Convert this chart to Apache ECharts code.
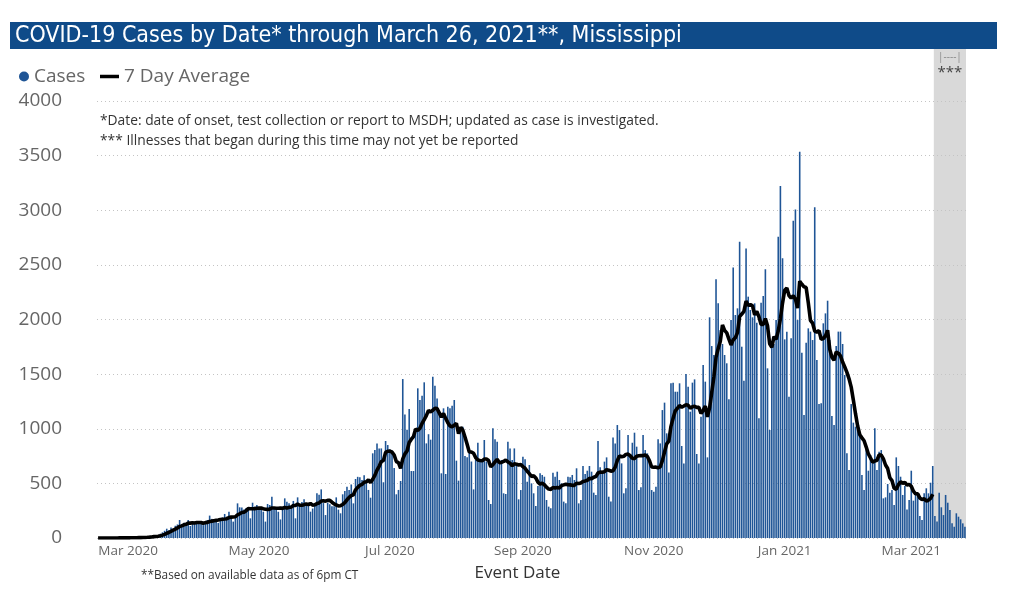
<!DOCTYPE html>
<html>
<head>
<meta charset="utf-8">
<script src="https://cdn.jsdelivr.net/npm/echarts@6/dist/echarts.min.js"></script>
<style>
html,body{margin:0;padding:0;background:#fff;}
#c{width:1029px;height:609px;}
</style>
</head>
<body>
<div id="c"></div>
<script>
// ---- data (daily cases by event date) ----
const startDate = '2020-02-16';
const casesFeb2020 = [0,0,1,0,0,1,0,1,1,0,2,1,1,2];
const casesMar2020 = [2,3,3,4,5,4,4, 6,9,12,15,18,22,16, 22,38,52,66,85,72,96, 88,112,124,165,120,140,128, 165,110,148];
const casesApr2020 = [150,152,140,128, 118,150,165,205,175,170,148, 138,180,188,220,195,240,176, 150,190,317,281,280,262,272, 280,180,323,287,302];
const casesMay2020 = [272,272, 241,150,311,302,378,265,256, 240,170,287,363,332,317,270, 339,180,372,290,330,354,320, 300,241,270,310,409,395,445, 320];
const casesJun2020 = [210,323,310,290,290,372,260, 226,400,430,470,440,490,317, 540,560,555,530,575,520,440, 369,775,805,866,820,820,510, 888,851];
const casesJul2020 = [810,800,640,400,440,522,1455,1130,990,1180,613,613,1000,1370,1263,1303,1425,866,950,900,1477,1394,1278,1150,592,1187,586,1202,1187,1210,1263];
const casesAug2020 = [708,525,995,1019,750,740,780,700,445,714,872,720,714,897,700,348,311,1004,903,881,683,714,409,403,881,820,714,820,683,354,439];
const casesSep2020 = [744,720,515,668,500,409,293,476,592,577,561,348,287,272,598,561,607,531,500,333,317,561,555,577,531,638,317,348,659,586];
const casesOct2020 = [616,659,607,415,394,888,647,598,699,738,378,333,921,866,1034,988,683,409,455,943,760,872,964,836,439,464,943,805,775,683,439];
const casesNov2020 = [424,470,903,866,1171,1239,958,600,1416,1422,1339,1339,1416,842,683,1501,1385,1156,1422,1452,769,683,1110,1583,1431,738,2020,1757,1675,2368];
const casesDec2020 = [2148,1904,1776,1675,1599,1269,1995,2477,2041,2102,2712,1751,1440,2651,2209,2087,2020,2148,1971,1095,2154,2215,2459,1553,989,1751,1776,1995,2758,3222,2560];
const casesJan2021 = [1818,1889,1294,1828,2905,3008,1995,3536,1696,1126,1788,1919,1889,1812,3027,1629,1227,1233,1965,2056,2172,1812,1117,1034,1757,1889,1889,1776,1492,775,622];
const casesFeb2021 = [1226,1056,1019,988,927,577,439,820,616,760,720,1004,622,790,805,363,372,494,415,439,302,738,659,561,394,476,262,348];
const casesMar2021 = [616,342,394,394,201,165,409,455,409,506,659,201,150,415,281,210,394,323,256,134,104,226,195,171,134,104];

const tickDates  = ['2020-03-01','2020-05-01','2020-07-01','2020-09-01','2020-11-01','2021-01-01','2021-03-01'];
const tickLabels = ['Mar 2020','May 2020','Jul 2020','Sep 2020','Nov 2020','Jan 2021','Mar 2021'];
const yMax = 4000, yStep = 500;
const avgWindow = 7;
const avgLastDate = '2021-03-11';
const pendingFrom = '2021-03-12', pendingTo = '2021-03-26';

const titleText = 'COVID-19 Cases by Date* through March 26, 2021**, Mississippi';
const noteDate = '*Date: date of onset, test collection or report to MSDH; updated as case is investigated.';
const notePending = '*** Illnesses that began during this time may not yet be reported';
const noteBased = '**Based on available data as of 6pm CT';
const xAxisTitle = 'Event Date';

// ---- build ----
const cases = [].concat(casesFeb2020, casesMar2020, casesApr2020, casesMay2020, casesJun2020,
  casesJul2020, casesAug2020, casesSep2020, casesOct2020, casesNov2020, casesDec2020,
  casesJan2021, casesFeb2021, casesMar2021);
const t0 = Date.parse(startDate + 'T00:00:00Z');
const dates = cases.map((_, i) => new Date(t0 + i * 86400000).toISOString().slice(0, 10));
const avgEnd = dates.indexOf(avgLastDate);
const avg = cases.map((v, i) => {
  if (i > avgEnd) return null;
  const s = Math.max(0, i - avgWindow + 1);
  let sum = 0;
  for (let k = s; k <= i; k++) sum += cases[k];
  return Math.round(sum / (i - s + 1) * 10) / 10;
});

const barColor = '#1F5596';
const FONT = '"Open Sans", "Noto Sans", sans-serif';

const chart = echarts.init(document.getElementById('c'), null, { renderer: 'canvas' });
const option = {
  animation: false,
  backgroundColor: '#ffffff',
  textStyle: { fontFamily: FONT },
  grid: { left: 97, right: 63, top: 101, bottom: 71, containLabel: false },
  legend: [
    { data: [{ name: 'Cases', icon: 'circle' }], left: 14, top: 62, itemWidth: 10, itemHeight: 10,
      selectedMode: false, textStyle: { fontSize: 19, color: '#666', fontFamily: FONT } },
    { data: [{ name: '7 Day Average', icon: 'rect', itemStyle: { color: '#000' } }], left: 95, top: 62,
      itemWidth: 19, itemHeight: 3.5,
      selectedMode: false, textStyle: { fontSize: 19, color: '#666', fontFamily: FONT } }
  ],
  xAxis: {
    type: 'category', data: dates, boundaryGap: true,
    axisLine: { show: false }, axisTick: { show: false }, splitLine: { show: false },
    axisLabel: {
      interval: (i, v) => tickDates.indexOf(v) >= 0,
      formatter: v => tickLabels[tickDates.indexOf(v)],
      color: '#666', fontSize: 13.5, margin: 6, fontFamily: FONT
    },
    name: xAxisTitle, nameLocation: 'middle', nameGap: 27,
    nameTextStyle: { fontSize: 17, color: '#333', padding: [0, 28, 0, 0], fontFamily: FONT }
  },
  yAxis: {
    type: 'value', min: 0, max: yMax, interval: yStep,
    axisLine: { show: false }, axisTick: { show: false },
    axisLabel: { color: '#666', fontSize: 19, margin: 35, fontFamily: FONT, formatter: v => String(v) },
    splitLine: { lineStyle: { type: [1, 3], color: '#c4c4c4', width: 1 } }
  },
  series: [
    { name: 'Cases', type: 'bar', data: cases, barWidth: '74%', itemStyle: { color: barColor }, z: 2 },
    { name: '7 Day Average', type: 'line', data: avg, symbol: 'none', showSymbol: false,
      connectNulls: false, lineStyle: { color: '#000', width: 3.6 }, itemStyle: { color: '#000' }, z: 3 }
  ]
};
chart.setOption(option);

// shaded "may not yet be reported" band, placed with the axis scale
const iA = dates.indexOf(pendingFrom), iB = dates.indexOf(pendingTo);
const xA = chart.convertToPixel({ xAxisIndex: 0 }, dates[iA]);
const xB = chart.convertToPixel({ xAxisIndex: 0 }, dates[iB]);
const bw = (xB - xA) / (iB - iA);
const yBase = chart.convertToPixel({ yAxisIndex: 0 }, 0);
const bandL = xA - bw / 2, bandR = xB + bw / 2;
const bandTop = 49;

chart.setOption({
  graphic: [
    { id: 'band', type: 'rect', z: -1, silent: true,
      shape: { x: bandL, y: bandTop, width: bandR - bandL, height: yBase - bandTop },
      style: { fill: '#d9d9d9' } },
    { id: 'bandMark', type: 'text', z: 10, x: (bandL + bandR) / 2, y: 57,
      style: { text: '|----|', fill: '#888', fontSize: 10, fontFamily: FONT, align: 'center', verticalAlign: 'middle' } },
    { id: 'bandStars', type: 'text', z: 10, x: (bandL + bandR) / 2, y: 73,
      style: { text: '***', fill: '#444', fontSize: 15, fontFamily: FONT, align: 'center', verticalAlign: 'middle' } },
    { id: 'titleBar', type: 'rect', z: 5, shape: { x: 10, y: 22, width: 987, height: 27 },
      style: { fill: '#0F4B89' } },
    { id: 'titleText', type: 'text', z: 6, x: 15, y: 36,
      style: { text: titleText, fill: '#ffffff', fontSize: 23,
        fontFamily: '"Liberation Sans Narrow", "DejaVu Sans Condensed", Roboto, sans-serif',
        verticalAlign: 'middle' } },
    { id: 'note1', type: 'text', z: 10, x: 100, y: 121,
      style: { text: noteDate, fill: '#333', fontSize: 13.8, fontFamily: FONT, verticalAlign: 'middle' } },
    { id: 'note2', type: 'text', z: 10, x: 100, y: 141,
      style: { text: notePending, fill: '#333', fontSize: 13.8, fontFamily: FONT, verticalAlign: 'middle' } },
    { id: 'note3', type: 'text', z: 10, x: 141, y: 576,
      style: { text: noteBased, fill: '#333', fontSize: 11.8, fontFamily: FONT, verticalAlign: 'middle' } }
  ]
});
</script>
</body>
</html>
